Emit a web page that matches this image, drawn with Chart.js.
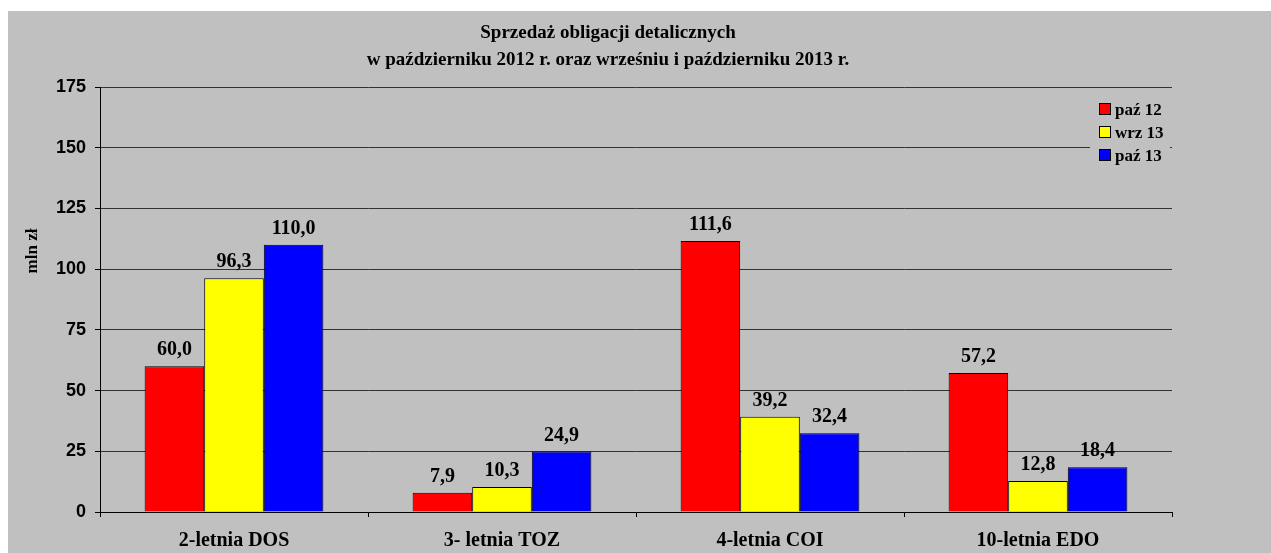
<!DOCTYPE html>
<html>
<head>
<meta charset="utf-8">
<script src="https://cdn.jsdelivr.net/npm/chart.js@4/dist/chart.umd.min.js"></script>
<style>
  html, body { margin: 0; padding: 0; background: #ffffff; }
  #wrap { width: 1271px; height: 553px; }
</style>
</head>
<body>
<div id="wrap"><canvas id="bondChart" width="1271" height="553"></canvas></div>
<script>
// dane z wykresu
const categories = ['2-letnia DOS', '3- letnia TOZ', '4-letnia COI', '10-letnia EDO'];
const seriesNames = ['paź 12', 'wrz 13', 'paź 13'];
const paz12 = [60.0, 7.9, 111.6, 57.2];
const wrz13 = [96.3, 10.3, 39.2, 12.8];
const paz13 = [110.0, 24.9, 32.4, 18.4];
const seriesColors = ['#ff0000', '#ffff00', '#0000ff'];
const yTicks = [0, 25, 50, 75, 100, 125, 150, 175];
const titleLines = ['Sprzedaż obligacji detalicznych', 'w październiku 2012 r. oraz wrześniu i październiku 2013 r.'];
const yTitle = 'mln zł';

const serif = '"Liberation Serif", "Times New Roman", serif';
const sans = '"Liberation Sans", Arial, sans-serif';

// tło, tytuł, etykiety wartości i legenda rysowane ręcznie
const decorPlugin = {
    id: 'decor',
    beforeDraw(chart) {
        const c = chart.ctx;
        c.save();
        c.fillStyle = '#ffffff';
        c.fillRect(0, 0, chart.width, chart.height);
        c.fillStyle = '#c0c0c0';
        c.fillRect(8, 11, chart.width - 8, chart.height - 11);
        c.restore();
    },
    afterDraw(chart) {
        const c = chart.ctx;
        c.save();
        c.fillStyle = '#000';

        // tytuł
        c.font = 'bold 19px ' + serif;
        c.textAlign = 'center';
        c.textBaseline = 'alphabetic';
        c.fillText(titleLines[0], 608, 38);
        c.fillText(titleLines[1], 608, 65);

        // opis osi Y
        c.save();
        c.translate(37, 251);
        c.rotate(-Math.PI / 2);
        c.font = 'bold 17px ' + serif;
        c.textAlign = 'center';
        c.fillText(yTitle, 0, 0);
        c.restore();

        // wartości nad słupkami
        c.font = 'bold 20px ' + serif;
        c.textAlign = 'center';
        chart.data.datasets.forEach((ds, i) => {
            const meta = chart.getDatasetMeta(i);
            meta.data.forEach((bar, j) => {
                const txt = ds.data[j].toFixed(1).replace('.', ',');
                c.fillText(txt, bar.x, bar.y - 11);
            });
        });

        // legenda
        c.fillStyle = '#c0c0c0';
        c.fillRect(1090, 95, 80, 72);
        c.font = 'bold 17px ' + serif;
        c.textAlign = 'left';
        seriesNames.forEach((name, i) => {
            const cy = 109 + i * 23;
            c.fillStyle = seriesColors[i];
            c.fillRect(1099, cy - 6, 12, 12);
            c.strokeStyle = '#000';
            c.lineWidth = 1;
            c.strokeRect(1099.5, cy - 5.5, 11, 11);
            c.fillStyle = '#000';
            c.fillText(name, 1115, cy + 6);
        });
        c.restore();
    }
};

const data = {
    labels: categories,
    datasets: [paz12, wrz13, paz13].map((vals, i) => ({
        label: seriesNames[i],
        data: vals,
        backgroundColor: seriesColors[i],
        borderColor: '#000',
        borderWidth: 1,
        categoryPercentage: 0.667,
        barPercentage: 1.0
    }))
};

const config = {
    type: 'bar',
    data: data,
    options: {
        responsive: false,
        animation: false,
        layout: { padding: { top: 87, right: 99, bottom: 0, left: 0 } },
        plugins: {
            legend: { display: false },
            title: { display: false },
            tooltip: { enabled: false }
        },
        scales: {
            x: {
                afterFit(scale) { scale.height = 41; },
                grid: { drawOnChartArea: false, drawTicks: true, tickLength: 5, color: '#000', offset: true },
                border: { display: true, color: '#000', width: 1 },
                ticks: { color: '#000', padding: 12, font: { family: serif, size: 20, weight: 'bold' } }
            },
            y: {
                min: 0,
                max: 175,
                afterFit(scale) { scale.width = 100; },
                afterBuildTicks(scale) { scale.ticks = yTicks.map(v => ({ value: v })); },
                grid: { color: '#333', lineWidth: 1, tickLength: 5, tickColor: '#000' },
                border: { display: true, color: '#000', width: 1 },
                ticks: { color: '#000', padding: 9, font: { family: sans, size: 18, weight: 'bold' } }
            }
        }
    },
    plugins: [decorPlugin]
};

const bondChart = new Chart(document.getElementById('bondChart').getContext('2d'), config);
</script>
</body>
</html>
